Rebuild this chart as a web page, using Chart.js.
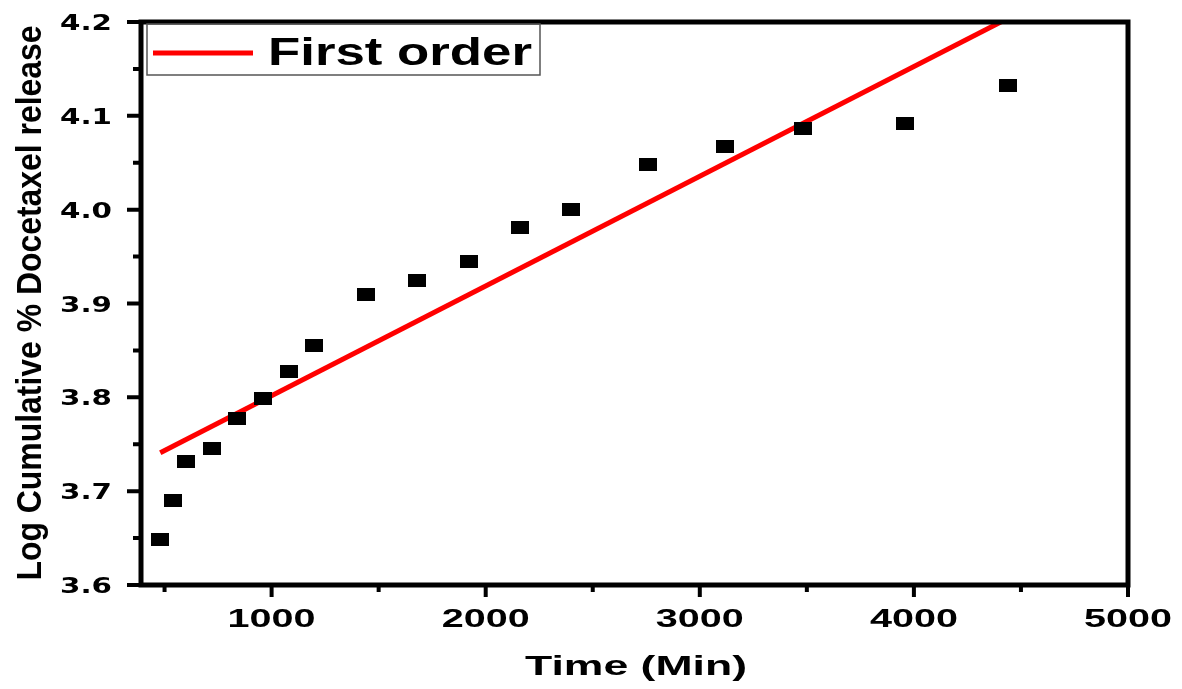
<!DOCTYPE html>
<html>
<head>
<meta charset="utf-8">
<script src="https://cdn.jsdelivr.net/npm/chart.js@4.4.1/dist/chart.umd.min.js"></script>
<style>
  html, body { margin: 0; padding: 0; background: #fff; }
  #wrap { width: 1182px; height: 689px; }
</style>
</head>
<body>
<div id="wrap"><canvas id="chart" width="1182" height="689"></canvas></div>
<script>
// data
const times = [480, 540, 600, 720, 840, 960, 1080, 1200, 1440, 1680, 1920, 2160, 2400, 2760, 3120, 3480, 3960, 4440];
const logRelease = [3.649, 3.690, 3.732, 3.746, 3.777, 3.799, 3.827, 3.855, 3.910, 3.925, 3.945, 3.981, 4.000, 4.048, 4.067, 4.087, 4.092, 4.132];
const fitX = [480, 4440];
const fitY = [3.741, 4.204];
const xTicks = [1000, 2000, 3000, 4000, 5000];
const xMinor = [500, 1500, 2500, 3500, 4500];
const yTicks = [3.6, 3.7, 3.8, 3.9, 4.0, 4.1, 4.2];
const yMinor = [3.65, 3.75, 3.85, 3.95, 4.05, 4.15];
const xTitle = "Time (Min)";
const yTitle = "Log Cumulative % Docetaxel release";

const sq = document.createElement("canvas");
sq.width = 18;
sq.height = 13;
const sctx = sq.getContext("2d");
sctx.fillStyle = "#000";
sctx.fillRect(0, 0, 18, 13);

// the original figure is stretched sideways, so text is drawn to a fitted width
function stretchText(ctx, text, x, y, font, width, align) {
  ctx.save();
  ctx.font = font;
  const sx = width / ctx.measureText(text).width;
  ctx.translate(x, y);
  ctx.scale(sx, 1);
  ctx.textAlign = align;
  ctx.textBaseline = "alphabetic";
  ctx.fillText(text, 0, 0);
  ctx.restore();
}

const framePlugin = {
  id: "frame",
  afterDraw(chart) {
    const { ctx, chartArea: a, scales } = chart;
    ctx.save();
    ctx.strokeStyle = "#000";
    ctx.lineWidth = 5;
    ctx.strokeRect(a.left, a.top, a.right - a.left, a.bottom - a.top);
    ctx.lineWidth = 4;
    ctx.beginPath();
    xTicks.forEach((v) => {
      const px = scales.x.getPixelForValue(v);
      ctx.moveTo(px, a.bottom);
      ctx.lineTo(px, a.bottom + 12);
    });
    xMinor.forEach((v) => {
      const px = scales.x.getPixelForValue(v);
      ctx.moveTo(px, a.bottom);
      ctx.lineTo(px, a.bottom + 7);
    });
    yTicks.forEach((v) => {
      const py = scales.y.getPixelForValue(v);
      ctx.moveTo(a.left, py);
      ctx.lineTo(a.left - 14, py);
    });
    yMinor.forEach((v) => {
      const py = scales.y.getPixelForValue(v);
      ctx.moveTo(a.left, py);
      ctx.lineTo(a.left - 8, py);
    });
    ctx.stroke();

    // tick labels
    ctx.fillStyle = "#000";
    scales.x.ticks.forEach((t) => {
      const px = scales.x.getPixelForValue(t.value);
      stretchText(ctx, String(t.value), px, 627, "bold 26px 'Liberation Sans'", 88, "center");
    });
    scales.y.ticks.forEach((t) => {
      const py = scales.y.getPixelForValue(t.value);
      stretchText(ctx, t.value.toFixed(1), 112, py + 8, "bold 22px 'DejaVu Sans'", 52, "right");
    });

    // axis titles
    stretchText(ctx, xTitle, 636, 675, "bold 28px 'Liberation Sans'", 222, "center");
    ctx.save();
    ctx.translate(41, 303);
    ctx.scale(1.3, 1);
    ctx.rotate(-Math.PI / 2);
    ctx.font = "bold 27px 'Liberation Sans'";
    const k = 555 / ctx.measureText(yTitle).width;
    ctx.scale(k, 1);
    ctx.textAlign = "center";
    ctx.textBaseline = "alphabetic";
    ctx.fillText(yTitle, 0, 0);
    ctx.restore();

    // legend box
    const ds = chart.data.datasets[1];
    ctx.lineWidth = 1.5;
    ctx.strokeStyle = "#555";
    ctx.strokeRect(147, 24, 393, 51);
    ctx.strokeStyle = ds.borderColor;
    ctx.lineWidth = 5;
    ctx.beginPath();
    ctx.moveTo(153, 53);
    ctx.lineTo(253, 53);
    ctx.stroke();
    stretchText(ctx, ds.label, 268, 65, "bold 39px 'Liberation Sans'", 264, "left");
    ctx.restore();
  },
};

new Chart(document.getElementById("chart"), {
  type: "scatter",
  data: {
    datasets: [
      {
        label: "Data",
        data: times.map((t, i) => ({ x: t, y: logRelease[i] })),
        pointStyle: sq,
        pointRadius: 9,
        backgroundColor: "#000",
      },
      {
        type: "line",
        label: "First order",
        data: fitX.map((t, i) => ({ x: t, y: fitY[i] })),
        borderColor: "#ff0000",
        borderWidth: 5,
        pointRadius: 0,
        showLine: true,
        clip: 0,
      },
    ],
  },
  options: {
    responsive: false,
    animation: false,
    layout: { padding: { top: 22, right: 54, left: 0, bottom: 0 } },
    plugins: { legend: { display: false }, tooltip: { enabled: false } },
    scales: {
      x: {
        type: "linear",
        min: 390,
        max: 5000,
        afterBuildTicks: (s) => { s.ticks = xTicks.map((v) => ({ value: v })); },
        afterFit: (s) => {
          s.height = 104;
          s.paddingLeft = 0;
          s.paddingRight = 0;
        },
        grid: { display: false },
        border: { display: false },
        ticks: { display: false },
      },
      y: {
        min: 3.6,
        max: 4.2,
        afterBuildTicks: (s) => { s.ticks = yTicks.map((v) => ({ value: v })); },
        afterFit: (s) => {
          s.width = 141;
          s.paddingTop = 0;
          s.paddingBottom = 0;
        },
        grid: { display: false },
        border: { display: false },
        ticks: { display: false },
      },
    },
  },
  plugins: [framePlugin],
});
</script>
</body>
</html>
